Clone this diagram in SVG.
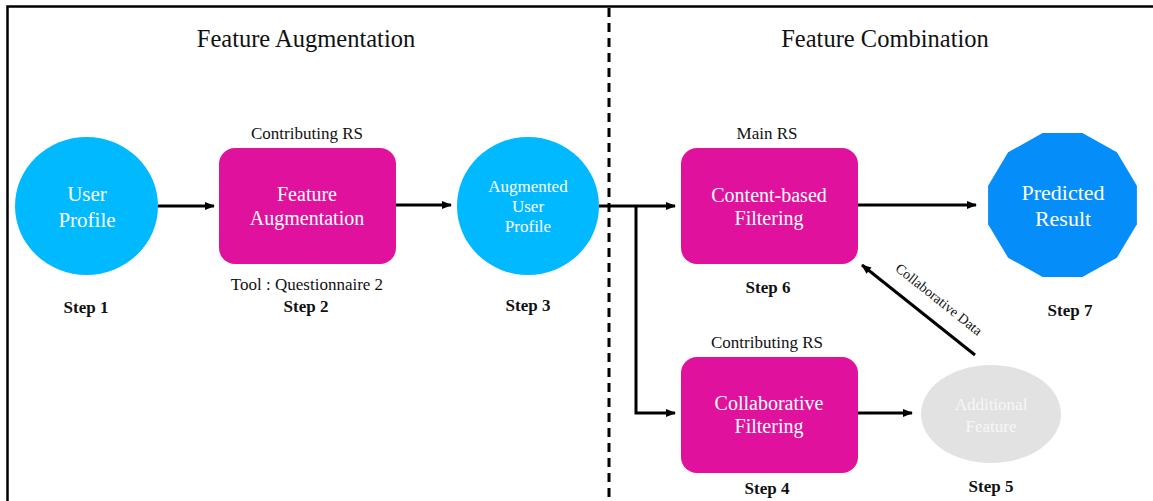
<svg xmlns="http://www.w3.org/2000/svg" width="1153" height="501" viewBox="0 0 1153 501">
<style>
.title{font-family:"Liberation Serif",serif;font-size:24.5px;fill:#111;text-anchor:middle}
.lbl{font-family:"Liberation Serif",serif;font-size:17px;fill:#111;text-anchor:middle}
.step{font-family:"Liberation Serif",serif;font-size:17px;font-weight:bold;fill:#111;text-anchor:middle}
.nt{font-family:"Liberation Serif",serif;font-size:21px;fill:#fff;text-anchor:middle}
.nts{font-family:"Liberation Serif",serif;font-size:17px;fill:#fff;text-anchor:middle}
.circ{fill:#00B9FF}
.box{fill:#E0119D}
.conn{stroke:#000;stroke-width:3;fill:none}
</style>
<defs>
<marker id="ah" markerWidth="10" markerHeight="8" refX="9" refY="4" orient="auto" markerUnits="userSpaceOnUse">
<path d="M0,0 L10,4 L0,8 Z" fill="#000"/>
</marker>
</defs>
<rect width="1153" height="501" fill="#fff"/>
<g id="frame">
<path d="M7.5,501 V6.5 H1153" fill="none" stroke="#000" stroke-width="2.5"/>
<line x1="609" y1="8" x2="609" y2="501" stroke="#000" stroke-width="3" stroke-dasharray="9,6"/>
<text class="title" x="306" y="47">Feature Augmentation</text>
<text class="title" x="885" y="47">Feature Combination</text>
</g>
<g id="connectors">
<line class="conn" x1="158" y1="206" x2="214" y2="206" marker-end="url(#ah)"/>
<line class="conn" x1="396" y1="205" x2="451" y2="205" marker-end="url(#ah)"/>
<line class="conn" x1="599" y1="206" x2="675" y2="206" marker-end="url(#ah)"/>
<polyline class="conn" points="636,206 636,413 675,413" marker-end="url(#ah)"/>
<line class="conn" x1="858" y1="205" x2="976" y2="205" marker-end="url(#ah)"/>
<line class="conn" x1="858" y1="413" x2="912" y2="413" marker-end="url(#ah)"/>
<line class="conn" x1="975" y1="355" x2="862" y2="265" marker-end="url(#ah)"/>
<text class="lbl" style="font-size:14px" transform="translate(936,303) rotate(38.5)">Collaborative Data</text>
</g>
<g id="step1">
<ellipse class="circ" cx="86.5" cy="206" rx="71.5" ry="69"/>
<text class="nt" x="87" y="201">User</text>
<text class="nt" x="87" y="227">Profile</text>
<text class="step" x="86" y="313">Step 1</text>
</g>
<g id="step2">
<text class="lbl" x="307" y="139">Contributing RS</text>
<rect class="box" x="219" y="148" width="177" height="116" rx="16"/>
<text class="nt" x="307" y="201" style="font-size:20px">Feature</text>
<text class="nt" x="307" y="225" style="font-size:20px">Augmentation</text>
<text class="lbl" x="307" y="290">Tool : Questionnaire 2</text>
<text class="step" x="306" y="312">Step 2</text>
</g>
<g id="step3">
<ellipse class="circ" cx="528" cy="206" rx="71" ry="69"/>
<text class="nts" x="528" y="192">Augmented</text>
<text class="nts" x="528" y="212">User</text>
<text class="nts" x="528" y="232">Profile</text>
<text class="step" x="528" y="311">Step 3</text>
</g>
<g id="step6">
<text class="lbl" x="767" y="139">Main RS</text>
<rect class="box" x="681" y="148" width="177" height="116" rx="16"/>
<text class="nt" x="769" y="202" style="font-size:20px">Content-based</text>
<text class="nt" x="769" y="225" style="font-size:20px">Filtering</text>
<text class="step" x="768" y="293">Step 6</text>
</g>
<g id="step7">
<polygon fill="#058DFA" points="1136.9,185.7 1116.9,152.3 1082.4,133 1042.6,133 1008.1,152.3 988.1,185.7 988.1,224.3 1008.1,257.7 1042.6,277 1082.4,277 1116.9,257.7 1136.9,224.3"/>
<text class="nt" x="1063" y="200" style="font-size:22px">Predicted</text>
<text class="nt" x="1063" y="226" style="font-size:22px">Result</text>
<text class="step" x="1070" y="316">Step 7</text>
</g>
<g id="step4">
<text class="lbl" x="767" y="348">Contributing RS</text>
<rect class="box" x="681" y="357" width="177" height="116" rx="16"/>
<text class="nt" x="769" y="410" style="font-size:20px">Collaborative</text>
<text class="nt" x="769" y="433" style="font-size:20px">Filtering</text>
<text class="step" x="767" y="494">Step 4</text>
</g>
<g id="step5">
<ellipse cx="991" cy="414" rx="70" ry="49" fill="#E2E2E2"/>
<text class="nts" x="991" y="410" style="fill:#F7F7F7">Additional</text>
<text class="nts" x="991" y="432" style="fill:#F7F7F7">Feature</text>
<text class="step" x="991" y="492">Step 5</text>
</g>
</svg>
